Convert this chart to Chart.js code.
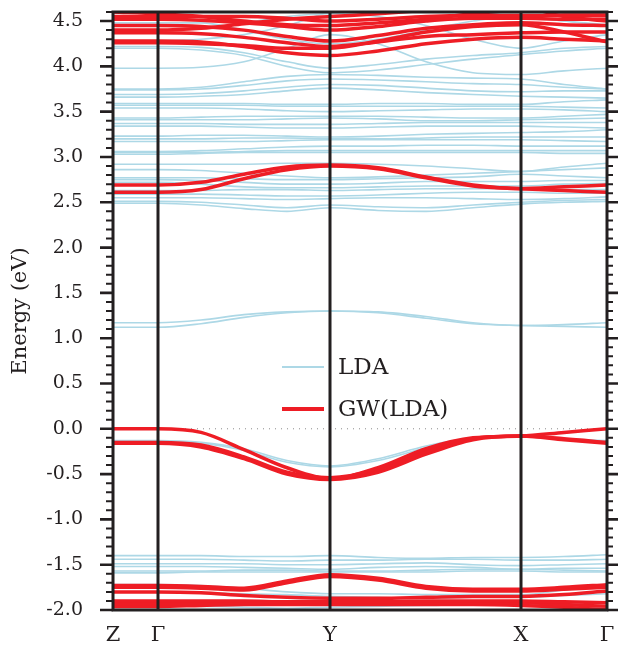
<!DOCTYPE html>
<html>
<head>
<meta charset="utf-8">
<script src="https://cdn.jsdelivr.net/npm/chart.js@4.4.0/dist/chart.umd.min.js"></script>
<style>
  html, body { margin: 0; padding: 0; background: #fff; }
  #wrap { width: 625px; height: 645px; }
</style>
</head>
<body>
<div id="wrap"><canvas id="bands" width="625" height="645"></canvas></div>
<script>
// k-path Z-Γ-Y-X-Γ, sample positions in path-length units
const kPath = [0, 45, 88, 131, 174, 217, 265, 313, 360, 408, 451, 494];
const kTicks = [0, 45, 217, 408, 494];
const kLabels = ['Z', 'Γ', 'Y', 'X', 'Γ'];

const energyMin = -2.0;
const energyMax = 4.6;
const energyTicks = [-2.0, -1.5, -1.0, -0.5, 0.0, 0.5, 1.0, 1.5, 2.0, 2.5, 3.0, 3.5, 4.0, 4.5];
const minorStep = 0.1;

const ldaColor = '#add8e6';
const gwColor = '#ee1d25';
const inkColor = '#231f20';
const serif = '"DejaVu Serif", serif';

// bands: energies (eV) at kPath points  [Z, Γ, .., .., .., Y, .., .., .., X, .., Γ]
const ldaDeep = [
  [-1.40, -1.40, -1.40, -1.41, -1.41, -1.40, -1.42, -1.43, -1.42, -1.42, -1.41, -1.39],
  [-1.44, -1.44, -1.44, -1.45, -1.46, -1.45, -1.45, -1.44, -1.44, -1.45, -1.45, -1.44],
  [-1.49, -1.49, -1.49, -1.49, -1.50, -1.50, -1.49, -1.48, -1.50, -1.51, -1.50, -1.49],
  [-1.52, -1.52, -1.52, -1.53, -1.54, -1.55, -1.53, -1.52, -1.53, -1.55, -1.54, -1.54],
  [-1.57, -1.57, -1.57, -1.56, -1.56, -1.57, -1.57, -1.56, -1.55, -1.55, -1.56, -1.57],
  [-1.59, -1.59, -1.58, -1.58, -1.58, -1.58, -1.58, -1.58, -1.57, -1.57, -1.58, -1.58],
  [-1.72, -1.72, -1.73, -1.76, -1.80, -1.82, -1.82, -1.83, -1.83, -1.83, -1.78, -1.72],
  [-1.80, -1.80, -1.81, -1.82, -1.83, -1.85, -1.86, -1.87, -1.86, -1.86, -1.84, -1.82],
  [-1.95, -1.95, -1.96, -1.97, -1.98, -1.97, -1.96, -1.95, -1.94, -1.94, -1.96, -1.98]
];
const ldaValence = [
  [-0.13, -0.13, -0.15, -0.22, -0.35, -0.41, -0.33, -0.19, -0.10, -0.08, -0.04, 0.00],
  [-0.14, -0.14, -0.16, -0.24, -0.37, -0.42, -0.35, -0.21, -0.11, -0.08, -0.11, -0.13]
];
const ldaGapStates = [
  [1.17, 1.17, 1.20, 1.26, 1.29, 1.30, 1.29, 1.24, 1.17, 1.14, 1.15, 1.17],
  [1.12, 1.12, 1.16, 1.23, 1.28, 1.30, 1.28, 1.22, 1.16, 1.14, 1.13, 1.12]
];
const ldaConduction = [
  [2.49, 2.49, 2.47, 2.43, 2.40, 2.44, 2.41, 2.40, 2.44, 2.48, 2.50, 2.51],
  [2.51, 2.51, 2.50, 2.47, 2.44, 2.47, 2.45, 2.44, 2.47, 2.50, 2.52, 2.53],
  [2.55, 2.55, 2.55, 2.54, 2.53, 2.54, 2.55, 2.55, 2.54, 2.53, 2.54, 2.56],
  [2.59, 2.59, 2.59, 2.58, 2.57, 2.57, 2.58, 2.60, 2.61, 2.61, 2.60, 2.60],
  [2.63, 2.63, 2.63, 2.64, 2.64, 2.63, 2.64, 2.65, 2.65, 2.65, 2.64, 2.64],
  [2.72, 2.72, 2.70, 2.67, 2.66, 2.66, 2.67, 2.68, 2.68, 2.68, 2.70, 2.71],
  [2.75, 2.75, 2.74, 2.72, 2.70, 2.70, 2.71, 2.73, 2.73, 2.73, 2.74, 2.74],
  [2.77, 2.77, 2.77, 2.76, 2.75, 2.75, 2.76, 2.77, 2.78, 2.81, 2.79, 2.77],
  [2.86, 2.86, 2.85, 2.82, 2.79, 2.77, 2.78, 2.80, 2.82, 2.84, 2.86, 2.88],
  [2.92, 2.92, 2.92, 2.92, 2.93, 2.93, 2.92, 2.90, 2.87, 2.84, 2.89, 2.93],
  [3.03, 3.03, 3.04, 3.05, 3.05, 3.05, 3.05, 3.05, 3.05, 3.05, 3.04, 3.04],
  [3.05, 3.05, 3.05, 3.06, 3.07, 3.07, 3.07, 3.07, 3.07, 3.07, 3.07, 3.07],
  [3.06, 3.06, 3.07, 3.09, 3.11, 3.12, 3.12, 3.13, 3.13, 3.12, 3.12, 3.12],
  [3.17, 3.17, 3.17, 3.17, 3.18, 3.19, 3.19, 3.19, 3.19, 3.19, 3.18, 3.17],
  [3.20, 3.20, 3.20, 3.21, 3.21, 3.20, 3.20, 3.21, 3.22, 3.22, 3.22, 3.22],
  [3.23, 3.23, 3.24, 3.24, 3.23, 3.22, 3.23, 3.25, 3.26, 3.27, 3.28, 3.30],
  [3.34, 3.34, 3.34, 3.33, 3.32, 3.32, 3.33, 3.34, 3.34, 3.34, 3.33, 3.32],
  [3.37, 3.37, 3.37, 3.36, 3.36, 3.36, 3.37, 3.38, 3.38, 3.38, 3.38, 3.38],
  [3.41, 3.41, 3.41, 3.41, 3.42, 3.43, 3.42, 3.40, 3.40, 3.41, 3.42, 3.43],
  [3.43, 3.43, 3.44, 3.45, 3.45, 3.45, 3.45, 3.44, 3.43, 3.43, 3.45, 3.47],
  [3.54, 3.54, 3.54, 3.53, 3.51, 3.50, 3.51, 3.52, 3.53, 3.53, 3.52, 3.50],
  [3.57, 3.57, 3.57, 3.57, 3.56, 3.56, 3.56, 3.56, 3.56, 3.56, 3.55, 3.54],
  [3.59, 3.59, 3.59, 3.59, 3.58, 3.58, 3.59, 3.59, 3.58, 3.58, 3.61, 3.63],
  [3.66, 3.66, 3.67, 3.69, 3.73, 3.76, 3.74, 3.71, 3.69, 3.67, 3.66, 3.65],
  [3.69, 3.69, 3.70, 3.73, 3.77, 3.80, 3.79, 3.76, 3.73, 3.72, 3.73, 3.73],
  [3.74, 3.74, 3.75, 3.79, 3.84, 3.86, 3.85, 3.83, 3.81, 3.80, 3.77, 3.75],
  [3.75, 3.75, 3.77, 3.83, 3.89, 3.91, 3.90, 3.88, 3.87, 3.86, 3.80, 3.75],
  [3.98, 3.98, 3.99, 4.05, 4.20, 4.35, 4.25, 4.05, 3.93, 3.91, 3.95, 3.98],
  [4.20, 4.20, 4.18, 4.12, 4.00, 3.93, 3.96, 4.02, 4.08, 4.13, 4.17, 4.20],
  [4.22, 4.22, 4.21, 4.15, 4.05, 3.98, 4.02, 4.08, 4.12, 4.15, 4.20, 4.22],
  [4.28, 4.28, 4.30, 4.35, 4.45, 4.60, 4.65, 4.65, 4.60, 4.55, 4.50, 4.45],
  [4.40, 4.40, 4.42, 4.48, 4.55, 4.58, 4.55, 4.45, 4.30, 4.20, 4.28, 4.35],
  [4.48, 4.48, 4.48, 4.40, 4.30, 4.25, 4.30, 4.40, 4.50, 4.56, 4.50, 4.46]
];

const gwDeep = [
  [-1.73, -1.73, -1.74, -1.76, -1.68, -1.61, -1.65, -1.74, -1.77, -1.77, -1.75, -1.72],
  [-1.75, -1.75, -1.76, -1.78, -1.70, -1.63, -1.67, -1.76, -1.79, -1.79, -1.77, -1.75],
  [-1.80, -1.80, -1.81, -1.84, -1.86, -1.87, -1.87, -1.86, -1.85, -1.85, -1.83, -1.79],
  [-1.90, -1.90, -1.90, -1.90, -1.91, -1.91, -1.91, -1.90, -1.90, -1.90, -1.91, -1.92],
  [-1.93, -1.93, -1.93, -1.92, -1.92, -1.93, -1.93, -1.92, -1.92, -1.92, -1.94, -1.96],
  [-1.96, -1.96, -1.95, -1.94, -1.94, -1.94, -1.94, -1.94, -1.94, -1.95, -1.97, -2.00]
];
const gwValence = [
  [0.00, 0.00, -0.04, -0.23, -0.43, -0.55, -0.43, -0.22, -0.10, -0.08, -0.04, 0.00],
  [-0.15, -0.15, -0.18, -0.31, -0.48, -0.54, -0.45, -0.25, -0.11, -0.08, -0.11, -0.15],
  [-0.16, -0.16, -0.20, -0.33, -0.50, -0.56, -0.48, -0.28, -0.12, -0.08, -0.12, -0.16]
];
const gwConduction = [
  [2.69, 2.69, 2.72, 2.81, 2.89, 2.91, 2.88, 2.78, 2.69, 2.65, 2.67, 2.69],
  [2.61, 2.61, 2.64, 2.76, 2.86, 2.90, 2.87, 2.77, 2.68, 2.65, 2.63, 2.61]
];
const gwUpper = [
  [4.55, 4.55, 4.55, 4.55, 4.53, 4.50, 4.52, 4.55, 4.56, 4.56, 4.56, 4.56],
  [4.52, 4.52, 4.51, 4.48, 4.44, 4.40, 4.44, 4.50, 4.53, 4.53, 4.52, 4.52],
  [4.45, 4.45, 4.44, 4.40, 4.33, 4.28, 4.34, 4.42, 4.46, 4.48, 4.46, 4.45],
  [4.37, 4.37, 4.36, 4.32, 4.26, 4.22, 4.27, 4.33, 4.35, 4.37, 4.38, 4.38],
  [4.28, 4.28, 4.27, 4.22, 4.15, 4.12, 4.17, 4.25, 4.30, 4.32, 4.30, 4.28],
  [4.26, 4.26, 4.25, 4.23, 4.20, 4.20, 4.28, 4.38, 4.44, 4.46, 4.38, 4.27],
  [4.60, 4.58, 4.55, 4.50, 4.46, 4.45, 4.48, 4.52, 4.58, 4.62, 4.60, 4.60],
  [4.40, 4.40, 4.42, 4.47, 4.52, 4.55, 4.58, 4.62, 4.65, 4.65, 4.55, 4.50]
];

const toPoints = band => band.map((e, i) => ({ x: kPath[i], y: e }));

const makeSet = (label, color, width, order) => band => ({
    label: label,
    data: toPoints(band),
    borderColor: color,
    borderWidth: width,
    pointRadius: 0,
    fill: false,
    cubicInterpolationMode: 'monotone',
    order: order
});

const ldaSets = [...ldaDeep, ...ldaValence, ...ldaGapStates, ...ldaConduction].map(makeSet('LDA', ldaColor, 1.6, 2));
const gwSets = [...gwDeep, ...gwValence, ...gwConduction, ...gwUpper].map(makeSet('GW(LDA)', gwColor, 3.5, 1));

// frame, high-symmetry lines, tick marks, E=0 guide and legend
const bandDecor = {
    id: 'bandDecor',
    beforeDatasetsDraw(chart) {
        const { ctx, chartArea: a, scales: { y } } = chart;
        const y0 = y.getPixelForValue(0);
        ctx.save();
        ctx.strokeStyle = '#8a8a8a';
        ctx.lineWidth = 1;
        ctx.setLineDash([1, 5]);
        ctx.beginPath();
        ctx.moveTo(a.left, y0);
        ctx.lineTo(a.right, y0);
        ctx.stroke();
        ctx.restore();
    },
    afterDatasetsDraw(chart) {
        const { ctx, chartArea: a, scales: { x, y } } = chart;
        ctx.save();
        ctx.strokeStyle = inkColor;

        // vertical lines at Γ, Y, X
        ctx.lineWidth = 3;
        kTicks.slice(1, -1).forEach(k => {
            const px = Math.round(x.getPixelForValue(k));
            ctx.beginPath();
            ctx.moveTo(px, a.top);
            ctx.lineTo(px, a.bottom);
            ctx.stroke();
        });

        // tick marks on both sides, major every 0.5
        const steps = Math.round((energyMax - energyMin) / minorStep);
        for (let i = 0; i <= steps; i++) {
            const v = energyMin + i * minorStep;
            const major = energyTicks.some(t => Math.abs(t - v) < 1e-6);
            const py = y.getPixelForValue(v);
            ctx.lineWidth = major ? 2.6 : 2;
            ctx.beginPath();
            ctx.moveTo(a.left - (major ? 13 : 7), py);
            ctx.lineTo(a.left, py);
            ctx.moveTo(a.right, py);
            ctx.lineTo(a.right + (major ? 11 : 6), py);
            ctx.stroke();
        }

        // frame
        ctx.lineWidth = 3;
        ctx.strokeRect(a.left, a.top, a.right - a.left, a.bottom - a.top);

        // legend
        const entries = [
            { text: 'LDA', color: ldaColor, width: 1.8 },
            { text: 'GW(LDA)', color: gwColor, width: 3.8 }
        ];
        const lx = a.left + 169;
        let ly = a.top + 355;
        ctx.font = '23px ' + serif;
        ctx.textBaseline = 'middle';
        ctx.textAlign = 'left';
        entries.forEach(e => {
            ctx.strokeStyle = e.color;
            ctx.lineWidth = e.width;
            ctx.beginPath();
            ctx.moveTo(lx, ly);
            ctx.lineTo(lx + 42, ly);
            ctx.stroke();
            ctx.fillStyle = inkColor;
            ctx.fillText(e.text, lx + 56, ly + 1);
            ly += 42;
        });
        ctx.restore();
    }
};

new Chart(document.getElementById('bands'), {
    type: 'line',
    data: { datasets: [...gwSets, ...ldaSets] },
    options: {
        responsive: false,
        animation: false,
        events: [],
        layout: { padding: { top: 12, right: 18, left: 0, bottom: 0 } },
        plugins: { legend: { display: false }, tooltip: { enabled: false } },
        scales: {
            x: {
                type: 'linear',
                min: kTicks[0],
                max: kTicks[kTicks.length - 1],
                afterBuildTicks: s => { s.ticks = kTicks.map(v => ({ value: v })); },
                afterFit: s => { s.height = 35; s.paddingLeft = 0; s.paddingRight = 0; },
                grid: { display: false, drawTicks: false },
                border: { display: false },
                ticks: {
                    autoSkip: false,
                    maxRotation: 0,
                    padding: 13,
                    color: inkColor,
                    font: { family: serif, size: 21 },
                    callback: (v, i) => kLabels[i]
                }
            },
            y: {
                min: energyMin,
                max: energyMax,
                afterBuildTicks: s => { s.ticks = energyTicks.map(v => ({ value: v })); },
                afterFit: s => { s.width = 113; },
                grid: { display: false, drawTicks: true, tickLength: 30 },
                border: { display: false },
                ticks: {
                    padding: 0,
                    color: inkColor,
                    font: { family: serif, size: 19 },
                    callback: v => v.toFixed(1)
                },
                title: {
                    display: true,
                    text: 'Energy (eV)',
                    color: inkColor,
                    font: { family: serif, size: 21 },
                    padding: { top: 8, bottom: 0 }
                }
            }
        }
    },
    plugins: [bandDecor]
});
</script>
</body>
</html>
